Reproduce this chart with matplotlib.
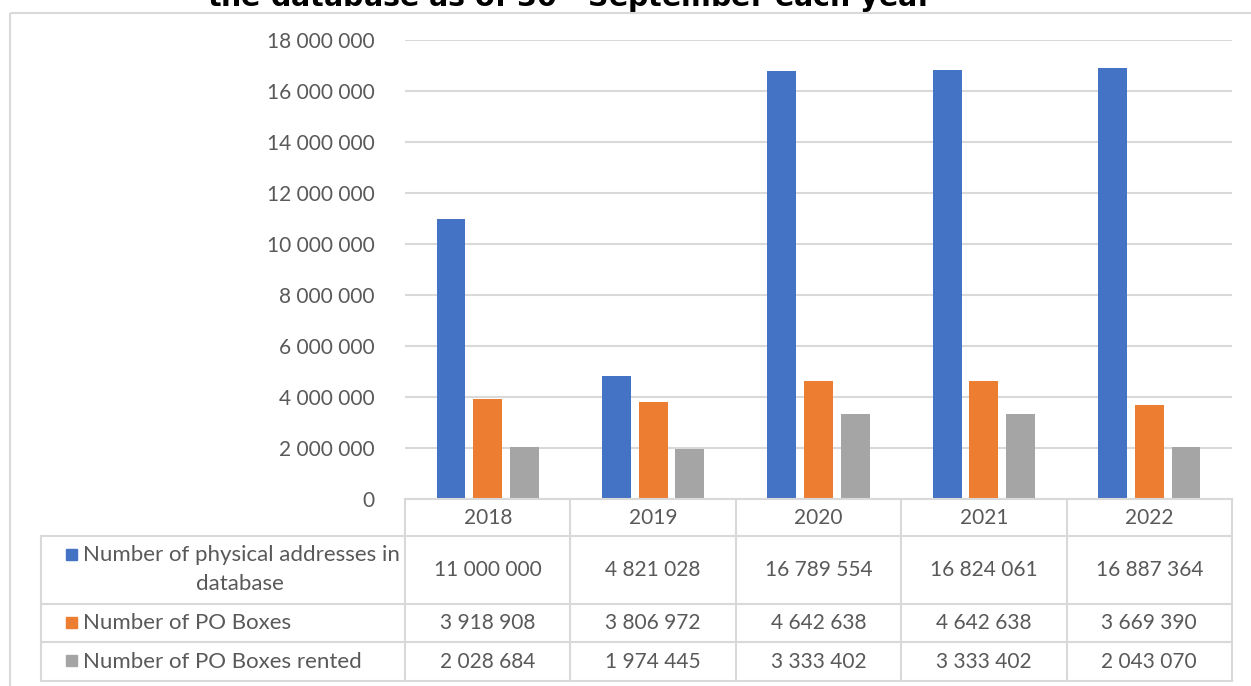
import matplotlib
matplotlib.use("Agg")
import matplotlib.pyplot as plt
from matplotlib.patches import Rectangle
import numpy as np

years = ["2018", "2019", "2020", "2021", "2022"]
series_names = ["Number of physical addresses in database",
                "Number of PO Boxes",
                "Number of PO Boxes rented"]
physical = [11000000, 4821028, 16789554, 16824061, 16887364]
po_boxes = [3918908, 3806972, 4642638, 4642638, 3669390]
po_rented = [2028684, 1974445, 3333402, 3333402, 2043070]
yticks = [0, 2000000, 4000000, 6000000, 8000000, 10000000,
          12000000, 14000000, 16000000, 18000000]
title = r"the database as of 30$^{\mathrm{th}}$ September each year"

colors = ["#4472C4", "#ED7D31", "#A5A5A5"]
grid_c = "#D9D9D9"
txt_c = "#595959"
FONT = "Lato"
FS = 15

W, H = 1251, 686
fig = plt.figure(figsize=(W / 100, H / 100), dpi=100)

def fx(px):
    return px / W

def fy(py):
    return 1 - py / H

# plot area
x0, x1, ytop, ybot = 405, 1232, 40, 499
ax = fig.add_axes([fx(x0), fy(ybot), fx(x1) - fx(x0), fy(ytop) - fy(ybot)])
x = np.arange(len(years))
bw = 0.175
step = 0.222
for i, vals in enumerate([physical, po_boxes, po_rented]):
    ax.bar(x + (i - 1) * step, vals, width=bw, color=colors[i], zorder=3)
ax.set_xlim(-0.5, len(years) - 0.5)
ax.set_ylim(0, 18000000)
ax.set_yticks(yticks)
ax.set_yticklabels([f"{v:,}".replace(",", " ") for v in yticks],
                   fontfamily=FONT, fontsize=FS, color=txt_c)
ax.tick_params(axis="y", length=0, pad=22)
ax.set_xticks([])
ax.grid(axis="y", color=grid_c, linewidth=1.5, zorder=0)
for s in ax.spines.values():
    s.set_visible(False)

# overlay axes in pixel coordinates for table and frame
ov = fig.add_axes([0, 0, 1, 1], zorder=5)
ov.set_xlim(0, W)
ov.set_ylim(H, 0)
ov.axis("off")

lw = 1.5
# frame
ov.plot([9.5, W + 5], [12.5, 12.5], color=grid_c, lw=lw, solid_capstyle="butt")
ov.plot([9.5, 9.5], [12.5, H + 5], color=grid_c, lw=lw, solid_capstyle="butt")

# table grid
col_edges = np.linspace(x0, x1, len(years) + 1)
row_edges = [499, 536, 604, 642, 681]
left = 41
ov.plot([x0, x1], [row_edges[0], row_edges[0]], color=grid_c, lw=lw)
for r in row_edges[1:]:
    ov.plot([left, x1], [r, r], color=grid_c, lw=lw)
ov.plot([left, left], [row_edges[1], row_edges[-1]], color=grid_c, lw=lw)
for c in col_edges:
    ov.plot([c, c], [row_edges[0], row_edges[-1]], color=grid_c, lw=lw)

col_centers = (col_edges[:-1] + col_edges[1:]) / 2
tkw = dict(fontfamily=FONT, fontsize=FS, color=txt_c)
for j, yr in enumerate(years):
    ov.text(col_centers[j], (row_edges[0] + row_edges[1]) / 2, yr,
            ha="center", va="center", **tkw)

data = [physical, po_boxes, po_rented]
for i in range(3):
    yc = (row_edges[i + 1] + row_edges[i + 2]) / 2
    for j in range(len(years)):
        ov.text(col_centers[j], yc, f"{data[i][j]:,}".replace(",", " "),
                ha="center", va="center", **tkw)

# row labels with legend keys
key = 11
lkw = dict(fontfamily=FONT, fontsize=FS + 1, color=txt_c)
y1a, y1b = 555, 584
ov.add_patch(Rectangle((66, y1a - key / 2 - 1), key, key, color=colors[0]))
ov.text(83, y1a, "Number of physical addresses in", ha="left", va="center", **lkw)
ov.text(240, y1b, "database", ha="center", va="center", **lkw)
for i in (1, 2):
    yc = (row_edges[i + 1] + row_edges[i + 2]) / 2
    ov.add_patch(Rectangle((66, yc - key / 2 - 1), key, key, color=colors[i]))
    ov.text(83, yc, series_names[i], ha="left", va="center", **lkw)

# clipped title (cut off at the top edge, as in the reference)
fig.text(fx(570), fy(7), title, ha="center", va="baseline",
         fontfamily="DejaVu Sans", fontweight="bold", fontsize=20.5, color="black")

fig.savefig("out.png", dpi=100)
